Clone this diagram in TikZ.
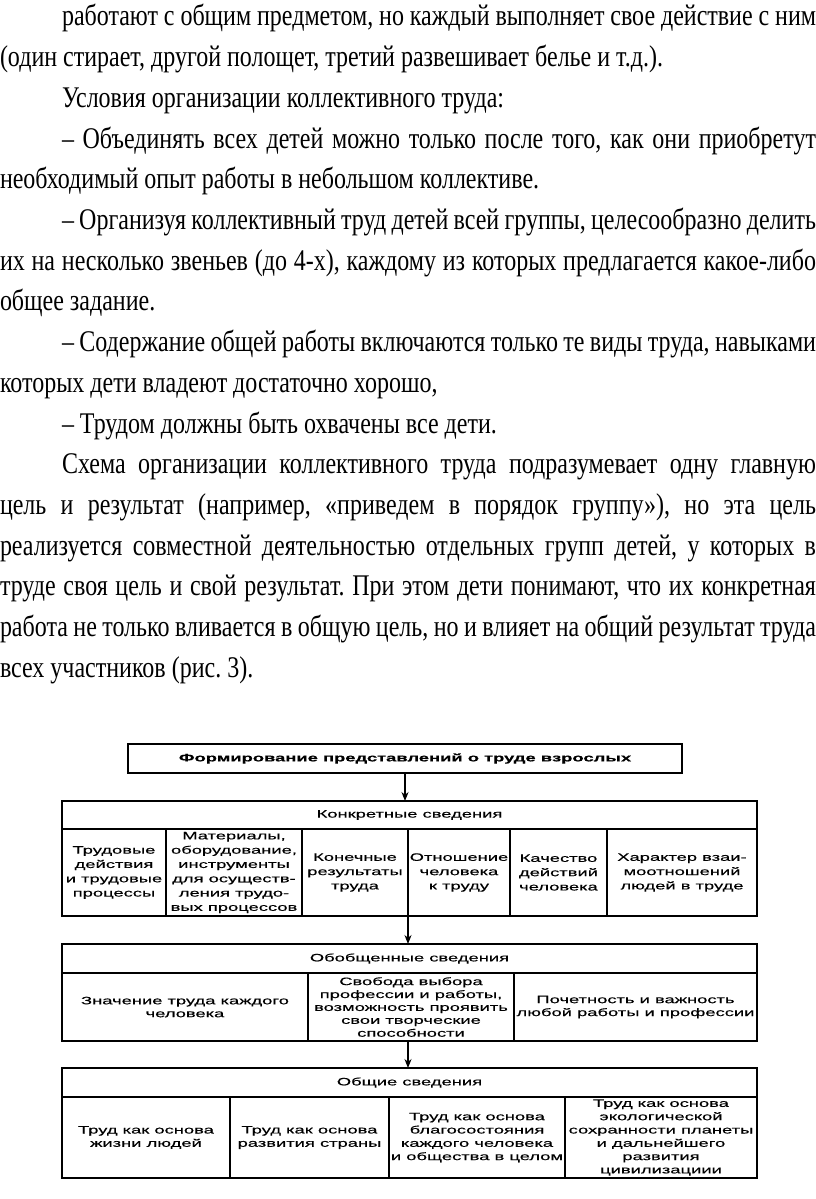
\documentclass[tikz,border=0pt]{standalone}
\usepackage{fontspec}
\setmainfont{Liberation Serif}
\newfontfamily\txtfont[FakeStretch=0.80]{Liberation Serif}
\newfontfamily\diafont[FakeStretch=1.70,FakeBold=0.3]{Liberation Sans}
\usetikzlibrary{arrows.meta}
\frenchspacing
\tikzset{
  txt/.style={anchor=base west, inner sep=0pt, outer sep=0pt, font=\txtfont\fontsize{30}{36}\selectfont},
  cell/.style={draw=black, line width=1.2pt, inner sep=0pt, outer sep=0pt, anchor=north west, align=center, font=\diafont\fontsize{10.8}{13.3}\selectfont},
  cellA/.style={cell, font=\diafont\fontsize{10.8}{14.3}\selectfont},
  cellB/.style={cell, font=\diafont\fontsize{10.8}{12.9}\selectfont},
  arr/.style={-{Stealth[length=9pt,width=7pt]}, line width=1.2pt, draw=black}
}
\begin{document}
\begin{tikzpicture}[x=1pt,y=-1pt]
\useasboundingbox (0,0) rectangle (816,1199);
\fill[white] (0,0) rectangle (816,1199);
% paragraph text
\node[txt] (l1) at (62,26) {\makebox[754pt][s]{работают с общим предметом, но каждый выполняет свое действие с ним}};
\node[txt] (l2) at (0,66.7) {(один стирает, другой полощет, третий развешивает белье и т.д.).};
\node[txt] (l3) at (62,107.4) {Условия организации коллективного труда:};
\node[txt] (l4) at (62,148.1) {\makebox[754pt][s]{– Объединять всех детей можно только после того, как они приобретут}};
\node[txt] (l5) at (0,188.8) {необходимый опыт работы в небольшом коллективе.};
\node[txt] (l6) at (62,229.5) {\makebox[754pt][s]{– Организуя коллективный труд детей всей группы, целесообразно делить}};
\node[txt] (l7) at (0,270.2) {\makebox[816pt][s]{их на несколько звеньев (до 4-х), каждому из которых предлагается какое-либо}};
\node[txt] (l8) at (0,310.9) {общее задание.};
\node[txt] (l9) at (62,351.6) {\makebox[754pt][s]{– Содержание общей работы включаются только те виды труда, навыками}};
\node[txt] (l10) at (0,392.3) {которых дети владеют достаточно хорошо,};
\node[txt] (l11) at (62,433) {– Трудом должны быть охвачены все дети.};
\node[txt] (l12) at (62,473.7) {\makebox[754pt][s]{Схема организации коллективного труда подразумевает одну главную}};
\node[txt] (l13) at (0,514.4) {\makebox[816pt][s]{цель и результат (например, «приведем в порядок группу»), но эта цель}};
\node[txt] (l14) at (0,555.1) {\makebox[816pt][s]{реализуется совместной деятельностью отдельных групп детей, у которых в}};
\node[txt] (l15) at (0,595.8) {\makebox[816pt][s]{труде своя цель и свой результат. При этом дети понимают, что их конкретная}};
\node[txt] (l16) at (0,636.5) {\makebox[816pt][s]{работа не только вливается в общую цель, но и влияет на общий результат труда}};
\node[txt] (l17) at (0,677.2) {всех участников (рис. 3).};
% diagram
\node[cell, minimum width=554pt, minimum height=29pt, font=\diafont\bfseries\fontsize{10.8}{13}\selectfont] (top) at (128,744) {Формирование представлений о труде взрослых};
% section 1
\node[cell, minimum width=695pt, minimum height=28pt] (h1) at (62,801) {Конкретные сведения};
\node[cellA, minimum width=104pt, minimum height=87pt] (k1) at (62,829) {Трудовые\\действия\\и трудовые\\процессы};
\node[cellA, minimum width=136pt, minimum height=87pt] (k2) at (166,829) {Материалы,\\оборудование,\\инструменты\\для осуществ-\\ления трудо-\\вых процессов};
\node[cellA, minimum width=106pt, minimum height=87pt] (k3) at (302,829) {Конечные\\результаты\\труда};
\node[cellA, minimum width=102pt, minimum height=87pt] (k4) at (408,829) {Отношение\\человека\\к труду};
\node[cellA, minimum width=97pt, minimum height=87pt] (k5) at (510,829) {Качество\\действий\\человека};
\node[cellA, minimum width=150pt, minimum height=87pt] (k6) at (607,829) {Характер взаи-\\моотношений\\людей в труде};
% section 2
\node[cell, minimum width=695pt, minimum height=29pt] (h2) at (62,944) {Обобщенные сведения};
\node[cellB, minimum width=246pt, minimum height=68pt] (g1) at (62,973) {Значение труда каждого\\человека};
\node[cellB, minimum width=206pt, minimum height=68pt] (g2) at (308,973) {Свобода выбора\\профессии и работы,\\возможность проявить\\свои творческие\\способности};
\node[cellB, minimum width=243pt, minimum height=68pt] (g3) at (514,973) {Почетность и важность\\любой работы и профессии};
% section 3
\node[cell, minimum width=695pt, minimum height=29pt] (h3) at (62,1068) {Общие сведения};
\node[cell, minimum width=168pt, minimum height=81pt] (o1) at (62,1097) {Труд как основа\\жизни людей};
\node[cell, minimum width=159pt, minimum height=81pt] (o2) at (230,1097) {Труд как основа\\развития страны};
\node[cell, minimum width=176pt, minimum height=81pt] (o3) at (389,1097) {Труд как основа\\благосостояния\\каждого человека\\и общества в целом};
\node[cell, minimum width=192pt, minimum height=81pt] (o4) at (565,1097) {Труд как основа\\экологической\\сохранности планеты\\и дальнейшего\\развития\\цивилизациии};
% arrows
\draw[arr] (top.south) -- (top.south |- h1.north);
\draw[arr] (k4.south west) -- (k4.south west |- h2.north);
\draw[arr] (k4.south west |- g2.south) -- (k4.south west |- h3.north);
\end{tikzpicture}
\end{document}
